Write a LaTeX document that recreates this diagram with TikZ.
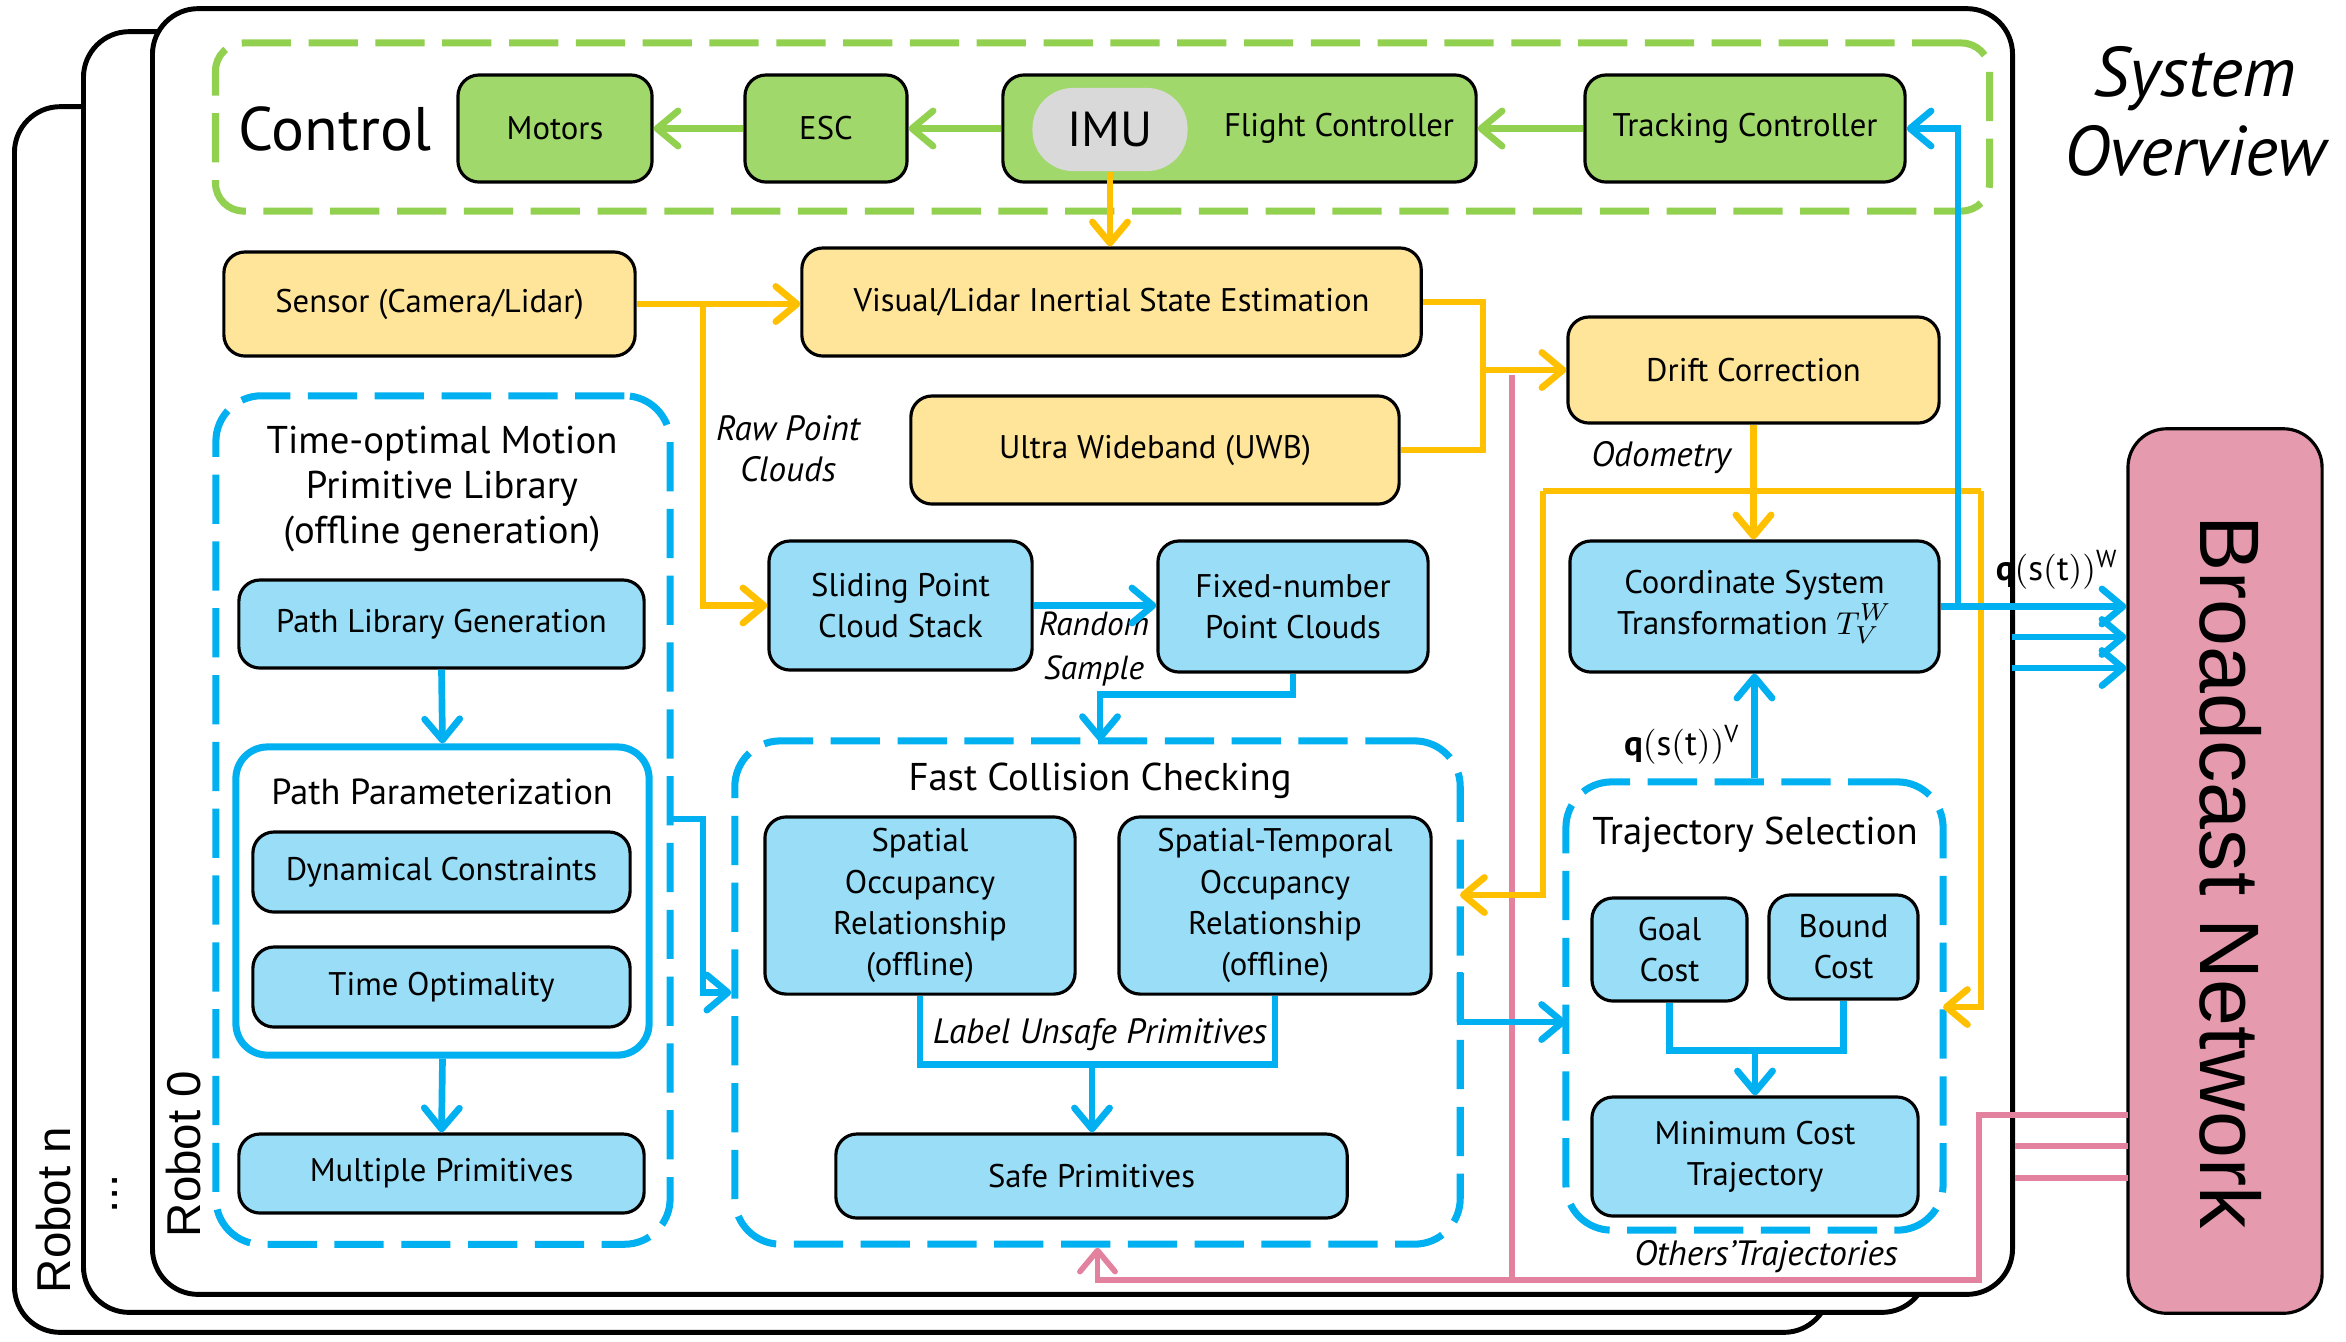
\documentclass[tikz,border=0pt]{standalone}
\usepackage{fontspec}
\setmainfont{PT Sans}
\newfontfamily\arialf{Liberation Sans}
\usetikzlibrary{arrows.meta}
\definecolor{gfill}{RGB}{161,216,108}
\definecolor{gline}{RGB}{146,208,80}
\definecolor{yfill}{RGB}{255,229,153}
\definecolor{yline}{RGB}{255,192,0}
\definecolor{bfill}{RGB}{153,221,246}
\definecolor{bline}{RGB}{0,176,240}
\definecolor{pfill}{RGB}{229,155,173}
\definecolor{pline}{RGB}{226,130,158}
\definecolor{imugray}{RGB}{217,217,217}
\begin{document}
\begin{tikzpicture}[x=0.01cm,y=-0.01cm,
  frame/.style={draw=black, line width=1.4pt, fill=white, rounded corners=13pt, inner sep=0pt},
  box/.style={draw=black, line width=0.9pt, rounded corners=6pt, inner sep=0pt, align=center, font=\fontsize{9.3}{11.7}\selectfont},
  gbox/.style={box, fill=gfill},
  ybox/.style={box, fill=yfill},
  bbox/.style={box, fill=bfill},
  dbox/.style={draw=bline, line width=2pt, dash pattern=on 14pt off 5pt, rounded corners=13pt, inner sep=0pt},
  gdbox/.style={draw=gline, line width=2pt, dash pattern=on 14pt off 5pt, rounded corners=8pt, inner sep=0pt},
  arr/.style={-{Straight Barb[round,length=6pt,width=10pt]}},
  bl/.style={draw=bline, line width=1.9pt},
  yl/.style={draw=yline, line width=1.9pt},
  gl/.style={draw=gline, line width=1.9pt},
  pk/.style={draw=pline, line width=1.6pt},
  lbl/.style={font=\fontsize{10}{11.7}\selectfont\itshape, align=center, inner sep=0pt},
  ttl/.style={font=\fontsize{11}{12.7}\selectfont, align=center, inner sep=0pt},
  rob/.style={font=\arialf\fontsize{13.5}{14}\selectfont, rotate=90, inner sep=0pt}
]
\useasboundingbox (0,0) rectangle (2346,1341);
\fill[white] (0,0) rectangle (2346,1341);

% robot frames
\node[frame, minimum width=18.14cm, minimum height=12.25cm] (fb) at (922,719.5) {};
\node[frame, minimum width=18.43cm, minimum height=12.80cm] (fm) at (1005.5,672) {};
\node[frame, minimum width=18.59cm, minimum height=12.85cm] (ff) at (1082.5,651.5) {};
\node[rob] (rn) at (54,1210) {Robot n};
\node[rob] (rd) at (115,1194) {...};
\node[rob] (r0) at (184,1154) {Robot 0};

% system overview
\node[font=\fontsize{20}{22.5}\selectfont\itshape, align=center, inner sep=0pt] (so) at (2195,111) {System\\Overview};

% control
\node[gdbox, minimum width=17.73cm, minimum height=1.68cm] (ctl) at (1102.5,127) {};
\node[font=\fontsize{17.5}{20}\selectfont, inner sep=0pt] (ctll) at (335,129) {Control};
\node[gbox, minimum width=1.94cm, minimum height=1.07cm] (mot) at (555,128.5) {Motors};
\node[gbox, minimum width=1.62cm, minimum height=1.07cm] (esc) at (826,128.5) {ESC};
\node[gbox, minimum width=4.73cm, minimum height=1.07cm] (fc) at (1239.5,128.5) {};
\node[fill=imugray, rounded corners=11.5pt, minimum width=1.55cm, minimum height=0.83cm, inner sep=0pt, font=\fontsize{14}{14}\selectfont] (imu) at (1110,129.5) {IMU};
\node[font=\fontsize{9.3}{11.7}\selectfont, inner sep=0pt] (fcl) at (1339,128.5) {Flight Controller};
\node[gbox, minimum width=3.20cm, minimum height=1.07cm] (tc) at (1745,128.5) {Tracking Controller};

% yellow boxes
\node[ybox, minimum width=4.11cm, minimum height=1.04cm] (sen) at (429.5,304) {Sensor (Camera/Lidar)};
\node[ybox, minimum width=6.19cm, minimum height=1.08cm] (vl) at (1111.5,302) {Visual/Lidar Inertial State Estimation};
\node[ybox, minimum width=4.88cm, minimum height=1.08cm] (uwb) at (1155,450) {Ultra Wideband (UWB)};
\node[ybox, minimum width=3.71cm, minimum height=1.06cm] (dc) at (1753.5,370) {Drift Correction};

% left container
\node[dbox, minimum width=4.54cm, minimum height=8.48cm] (tol) at (443,820) {};
\node[ttl] (toll) at (442,489) {Time-optimal Motion\\Primitive Library\\(offline generation)};
\node[bbox, minimum width=4.05cm, minimum height=0.88cm] (plg) at (441.5,624) {Path Library Generation};
\node[draw=bline, line width=2pt, fill=white, rounded corners=9pt, minimum width=4.13cm, minimum height=3.08cm, inner sep=0pt] (pp) at (442.5,901) {};
\node[ttl, font=\fontsize{10.3}{12}\selectfont] (ppl) at (442,792) {Path Parameterization};
\node[bbox, minimum width=3.77cm, minimum height=0.80cm] (dyn) at (441.5,872) {Dynamical Constraints};
\node[bbox, minimum width=3.77cm, minimum height=0.80cm] (top) at (441.5,987) {Time Optimality};
\node[bbox, minimum width=4.05cm, minimum height=0.79cm] (mp) at (441.5,1173.5) {Multiple Primitives};

% point clouds
\node[bbox, minimum width=2.63cm, minimum height=1.29cm] (sl) at (900.5,605.5) {Sliding Point\\Cloud Stack};
\node[bbox, minimum width=2.70cm, minimum height=1.31cm] (fx) at (1293,606.5) {Fixed-number\\Point Clouds};

% fast collision checking
\node[dbox, minimum width=7.25cm, minimum height=5.03cm] (fcc) at (1097.5,992.5) {};
\node[ttl] (fccl) at (1100,781) {Fast Collision Checking};
\node[bbox, minimum width=3.10cm, minimum height=1.77cm] (soc) at (920,905.5) {Spatial\\Occupancy\\Relationship\\(offline)};
\node[bbox, minimum width=3.12cm, minimum height=1.77cm] (st) at (1275,905.5) {Spatial-Temporal\\Occupancy\\Relationship\\(offline)};
\node[bbox, minimum width=5.11cm, minimum height=0.84cm] (safe) at (1091.5,1176) {Safe Primitives};

% coordinate + trajectory selection
\node[bbox, minimum width=3.69cm, minimum height=1.31cm] (coord) at (1754.5,606.5) {Coordinate System\\Transformation $T_V^W$};
\node[dbox, minimum width=3.77cm, minimum height=4.48cm] (ts) at (1754.5,1006) {};
\node[ttl] (tsl) at (1755,835) {Trajectory Selection};
\node[bbox, minimum width=1.55cm, minimum height=1.03cm] (gc) at (1669.5,949.5) {Goal\\Cost};
\node[bbox, minimum width=1.49cm, minimum height=1.04cm] (bc) at (1843.5,947) {Bound\\Cost};
\node[bbox, minimum width=3.26cm, minimum height=1.19cm] (mc) at (1755,1156.5) {Minimum Cost\\Trajectory};

% broadcast network
\node[draw=black, line width=0.9pt, fill=pfill, rounded corners=11pt, minimum width=1.94cm, minimum height=8.84cm, inner sep=0pt] (bn) at (2225,871) {};
\node[font=\arialf\fontsize{24}{26}\selectfont, rotate=-90, inner sep=0pt] (bnl) at (2231,872) {Broadcast Network};

% labels
\node[lbl] (rpc) at (788,449) {Raw Point\\Clouds};
\node[lbl, font=\fontsize{9.5}{12.3}\selectfont\itshape] (rs) at (1094,649) {Random\\Sample};
\node[lbl] (odo) at (1661,458) {Odometry};
\node[inner sep=0pt, font=\fontsize{10}{12}\selectfont] (qw) at (2057,570) {$\mathbf{q}(\mathrm{s}(\mathrm{t}))^{\mathrm{W}}$};
\node[inner sep=0pt, font=\fontsize{10}{12}\selectfont] (qv) at (1682,745) {$\mathbf{q}(\mathrm{s}(\mathrm{t}))^{\mathrm{V}}$};
\node[lbl] (lup) at (1100,1035) {Label Unsafe Primitives};
\node[lbl] (otr) at (1766,1257) {Others’Trajectories};

% coordinates for free ends
\coordinate (br1) at (703,304);
\coordinate (jx) at (1483,370);
\coordinate (oL) at (1543,491);
\coordinate (oR) at (1981,491);
\coordinate (fcy) at (1460,895);
\coordinate (tsy) at (1943,1007);
\coordinate (c1) at (670,819);
\coordinate (c3) at (1460,972);
\coordinate (c4) at (1566,1022);
\coordinate (fct) at (1100,741);
\coordinate (lu) at (1092,1063);
\coordinate (gm) at (1755,1049);
\coordinate (cb) at (1958,606.5);
\coordinate (e1) at (2012,637);
\coordinate (e2) at (2012,668);
\coordinate (p1) at (2128,1115);
\coordinate (p2) at (2128,1146);
\coordinate (p3) at (2128,1178);
\coordinate (pvt) at (1512,375);
\coordinate (pvb) at (1512,1280);
\coordinate (pc) at (1979,1280);

% green connectors
\draw[gl,arr] (tc.west) -- (fc.east);
\draw[gl,arr] (fc.west) -- (esc.east);
\draw[gl,arr] (esc.west) -- (mot.east);

% pink connectors
\draw[pk] (pvt) -- (pvb);
\draw[pk,arr] (p1) -| (pc) -| (fcc.south);
\draw[pk] (p2) -- (p2 -| ff.east);
\draw[pk] (p3) -- (p3 -| ff.east);

% yellow connectors
\draw[yl,arr] (imu.south) -- (imu.south |- vl.north);
\draw[yl,arr] (sen.east) -- (sen.east -| vl.west);
\draw[yl,arr] (br1) |- (sl.west);
\draw[yl,arr] (vl.east) -| (jx) -- (dc.west);
\draw[yl] (uwb.east) -| (jx);
\draw[yl,arr] (dc.south) -- (dc.south |- coord.north);
\draw[yl] (oL) -- (oR);
\draw[yl,arr] (oL) |- (fcy);
\draw[yl,arr] (oR) |- (tsy);

% blue connectors
\draw[bl,arr] (plg.south) -- (pp.north);
\draw[bl,arr] (pp.south) -- (mp.north);
\draw[bl,arr] (c1) -- ++(33,0) |- (fcc.west);
\draw[bl,arr] (sl.east) -- (sl.east -| fx.west);
\draw[bl,arr] (fx.south) -- ++(0,21) -| (fct);
\draw[bl] (soc.south) -- ++(0,69) -| (st.south);
\draw[bl,arr] (lu) -- (lu |- safe.north);
\draw[bl,arr] (c3) |- (c4);
\draw[bl,arr] (ts.north) -- (ts.north |- coord.south);
\draw[bl] (gc.south) -- ++(0,48) -| (bc.south);
\draw[bl,arr] (gm) -- (gm |- mc.north);
\draw[bl,arr] (coord.east) -- (coord.east -| bn.west);
\draw[bl,arr] (cb) |- (tc.east);
\draw[bl,arr] (e1) -- (e1 -| bn.west);
\draw[bl,arr] (e2) -- (e2 -| bn.west);
\end{tikzpicture}
\end{document}
